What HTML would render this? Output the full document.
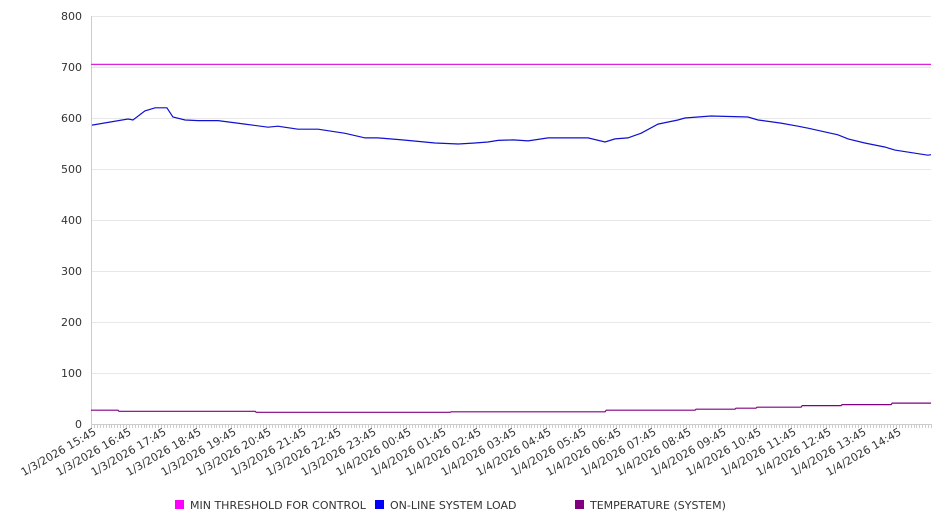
<!DOCTYPE html>
<html><head><meta charset="utf-8"><style>
html,body{margin:0;padding:0;background:#fff;width:946px;height:526px;overflow:hidden}
svg{font-family:"DejaVu Sans","Liberation Sans",sans-serif}
</style></head><body>
<svg id="chart" width="946" height="526" xmlns="http://www.w3.org/2000/svg">
<g id="grid"></g>
<g id="yaxis"></g>
<g id="xaxis"></g>
<g id="series"></g>
<g id="legend"></g>
</svg>
<script>
const yTicks=[0,100,200,300,400,500,600,700,800];
const xLabels=["1/3/2026 15:45","1/3/2026 16:45","1/3/2026 17:45","1/3/2026 18:45","1/3/2026 19:45","1/3/2026 20:45","1/3/2026 21:45","1/3/2026 22:45","1/3/2026 23:45","1/4/2026 00:45","1/4/2026 01:45","1/4/2026 02:45","1/4/2026 03:45","1/4/2026 04:45","1/4/2026 05:45","1/4/2026 06:45","1/4/2026 07:45","1/4/2026 08:45","1/4/2026 09:45","1/4/2026 10:45","1/4/2026 11:45","1/4/2026 12:45","1/4/2026 13:45","1/4/2026 14:45"];
// hours since 1/3/2026 15:45
const loadHours=[0.03,1.06,1.2,1.54,1.83,2.17,2.34,2.69,3.06,3.63,4.4,5.06,5.34,5.91,6.49,7.26,7.83,8.2,8.89,9.83,10.49,10.97,11.34,11.63,12.06,12.49,13.06,14.2,14.69,14.97,15.34,15.71,16.2,16.77,16.97,17.71,18.77,19.06,19.71,20.2,20.49,21.34,21.63,22.11,22.69,22.97,23.91,24.0];
const loadValues=[586,598,596,614,620,620,602,596,595,595,588,582,584,578,578,570,561,561,557,551,549,551,553,556,557,555,561,561,553,559,561,570,588,596,600,604,602,596,590,584,580,567,559,551,543,537,527,528];
const thresholdHours=[0,24];
const thresholdValues=[705,705];
const tempHours=[0,0.77,0.8,4.69,4.72,10.26,10.29,14.69,14.72,17.26,17.29,18.4,18.43,19.0,19.03,20.29,20.32,21.43,21.46,22.86,22.89,24];
const tempValues=[27,27,25,25,23,23,24,24,27,27,29,29,31,31,33,33,36,36,38,38,41,41];

const NS="http://www.w3.org/2000/svg";
const L=91,R=931,T=16,B=424,YMAX=800,HRS=24;
const xs=h=>L+(R-L)*h/HRS;
const ys=v=>B-(B-T)*v/YMAX;
function mk(tag,attrs,parent){const e=document.createElementNS(NS,tag);for(const k in attrs)e.setAttribute(k,attrs[k]);parent.appendChild(e);return e;}
const grid=document.getElementById('grid'),yax=document.getElementById('yaxis'),xax=document.getElementById('xaxis'),ser=document.getElementById('series'),leg=document.getElementById('legend');

yTicks.forEach(v=>{
  const g=mk('line',{x1:L,x2:R,y1:ys(v)+0.5,y2:ys(v)+0.5,stroke:v===0?'#ccc':'#e8e8e8','stroke-width':1},grid);
  
  
  const t=mk('text',{x:82,y:ys(v)+4,'text-anchor':'end','font-size':11,fill:'#333'},yax);
  t.textContent=v;
  
  
});
const ya=mk('line',{x1:L+0.5,x2:L+0.5,y1:T,y2:B,stroke:'#ccc'},yax);


for(let i=0;i<=HRS*12;i++){
  const x=Math.round(xs(i/12))+0.5;
  const m=mk('line',{x1:x,x2:x,y1:B,y2:B+4,stroke:'#ccc'},xax);
  
  
}
xLabels.forEach((s,i)=>{
  const x=xs(i)+6,y=B+10;
  const t=mk('text',{x:x,y:y,'text-anchor':'end','font-size':11,fill:'#333',transform:`rotate(-30 ${x} ${y})`},xax);
  t.textContent=s;
  
  
});
function line(hs,vs,color,name){
  const d=hs.map((h,i)=>(i?'L':'M')+xs(h).toFixed(1)+' '+ys(vs[i]).toFixed(1)).join(' ');
  const p=mk('path',{d:d,fill:'none',stroke:color,'stroke-width':1.2},ser);
  
  
}
line(thresholdHours,thresholdValues,'#e020e0','threshold-line');
line(loadHours,loadValues,'#1010d0','system-load-line');
line(tempHours,tempValues,'#800080','temperature-line');
[["MIN THRESHOLD FOR CONTROL","#ff00ff",175],["ON-LINE SYSTEM LOAD","#0000ff",375],["TEMPERATURE (SYSTEM)","#800080",575]].forEach(([s,c,x])=>{
  const r=mk('rect',{x:x,y:500,width:9,height:9,fill:c},leg);
  
  
  const t=mk('text',{x:x+15,y:509,'font-size':11,fill:'#333'},leg);
  t.textContent=s;
  
  
});
</script>
</body></html>
